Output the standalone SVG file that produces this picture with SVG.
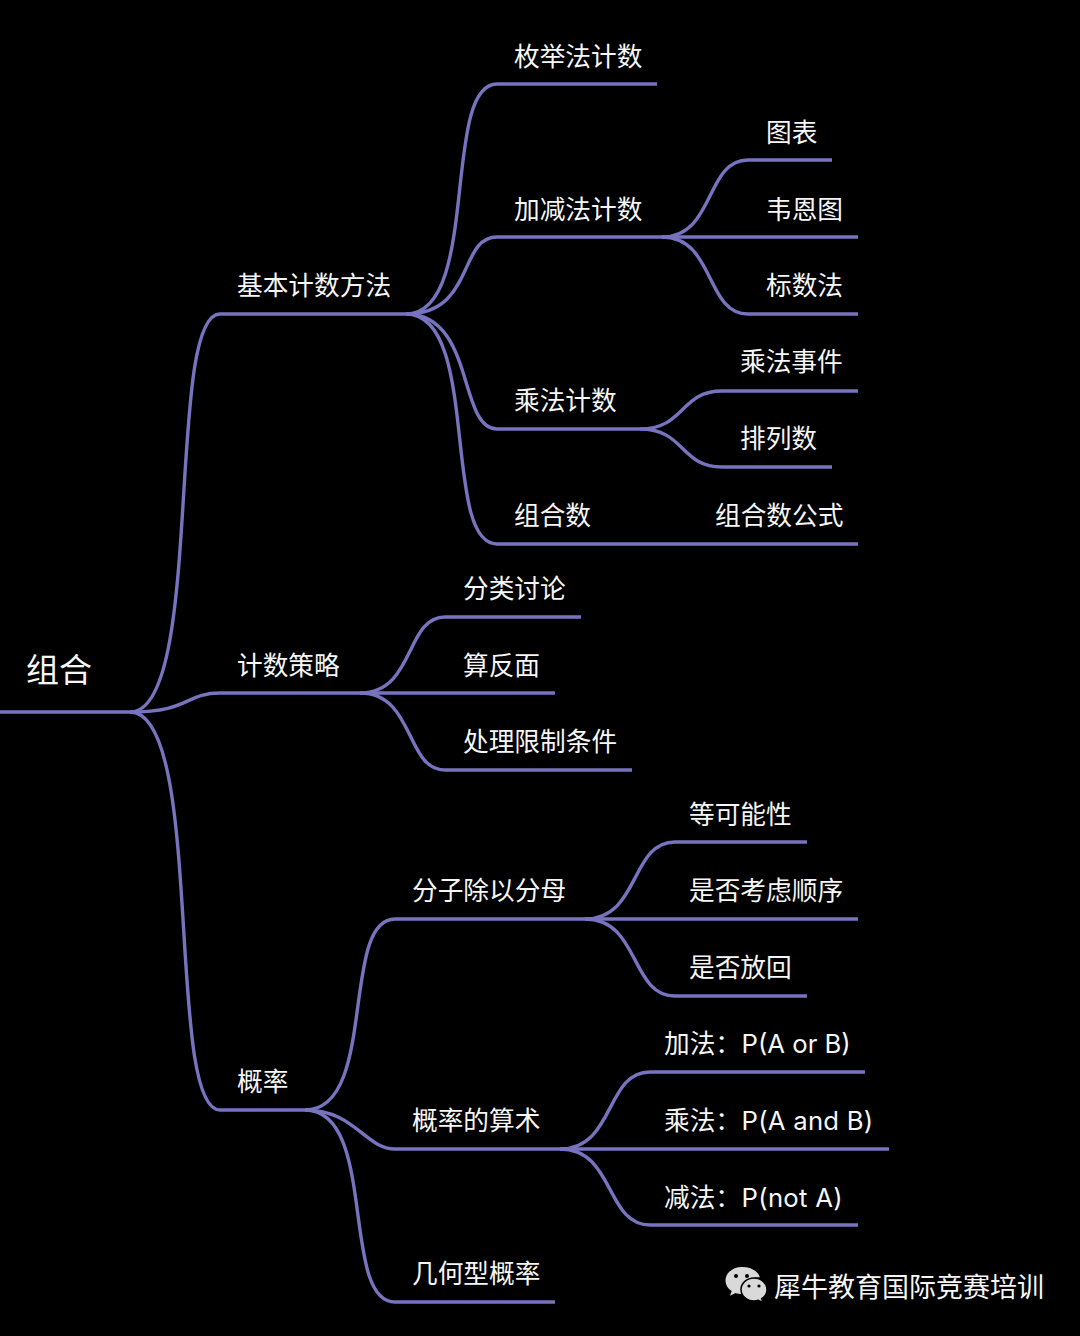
<svg xmlns="http://www.w3.org/2000/svg" width="1080" height="1336" viewBox="0 0 1080 1336">
<style>
.c{fill:none;stroke:#7873bf;stroke-width:3.4;stroke-linecap:butt}
text{fill:#f6f6f6;font-family:"Noto Sans CJK SC","Noto Sans",sans-serif;font-size:25.7px}
.l{font-family:"Inter","Noto Sans CJK SC",sans-serif}
</style>
<rect width="1080" height="1336" fill="#000"/>
<g id="connectors">
<path class="c" d="M0 712H130C205 712 165 314 220 314H406"/>
<path class="c" d="M130 712C190 712 185 693 220 693H360"/>
<path class="c" d="M130 712C205 712 165 1110 220 1110H305"/>
<path class="c" d="M406 314C481 314 441 84 497 84H657"/>
<path class="c" d="M406 314C475 314 458 237 497 237H662"/>
<path class="c" d="M406 314C475 314 458 429 497 429H640"/>
<path class="c" d="M406 314C481 314 441 544 497 544H858"/>
<path class="c" d="M662 237C715 237 705 160 748 160H832"/>
<path class="c" d="M662 237H858"/>
<path class="c" d="M662 237C715 237 705 314 748 314H858"/>
<path class="c" d="M640 429C685 429 680 391 722 391H858"/>
<path class="c" d="M640 429C685 429 680 467 722 467H832"/>
<path class="c" d="M360 693C415 693 405 617 445 617H581"/>
<path class="c" d="M360 693H555"/>
<path class="c" d="M360 693C415 693 405 770 445 770H632"/>
<path class="c" d="M305 1110C378 1110 340 919 395 919H585"/>
<path class="c" d="M305 1110C355 1110 365 1149 395 1149H560"/>
<path class="c" d="M305 1110C378 1110 340 1302 395 1302H555"/>
<path class="c" d="M585 919C640 919 630 842 675 842H807"/>
<path class="c" d="M585 919H858"/>
<path class="c" d="M585 919C640 919 630 996 675 996H807"/>
<path class="c" d="M560 1149C615 1149 605 1072 650 1072H865"/>
<path class="c" d="M560 1149H889"/>
<path class="c" d="M560 1149C615 1149 605 1225 650 1225H858"/>
</g>
<g id="n-root"><text x="26" y="682" style="font-size:33px">组合</text></g>
<g id="n-basic"><text x="237" y="295">基本计数方法</text></g>
<g id="n-enum"><text x="514" y="66">枚举法计数</text></g>
<g id="n-add"><text x="514" y="219">加减法计数</text></g>
<g id="n-chart"><text x="766" y="142">图表</text></g>
<g id="n-venn"><text x="766" y="219">韦恩图</text></g>
<g id="n-mark"><text x="766" y="295">标数法</text></g>
<g id="n-mult"><text x="514" y="410">乘法计数</text></g>
<g id="n-multev"><text x="740" y="371">乘法事件</text></g>
<g id="n-perm"><text x="740" y="448">排列数</text></g>
<g id="n-comb"><text x="514" y="525">组合数</text></g>
<g id="n-combf"><text x="715" y="525">组合数公式</text></g>
<g id="n-strategy"><text x="237" y="675">计数策略</text></g>
<g id="n-case"><text x="463" y="598">分类讨论</text></g>
<g id="n-compl"><text x="463" y="675">算反面</text></g>
<g id="n-limit"><text x="463" y="751">处理限制条件</text></g>
<g id="n-prob"><text x="237" y="1091">概率</text></g>
<g id="n-frac"><text x="412" y="900">分子除以分母</text></g>
<g id="n-equal"><text x="689" y="824">等可能性</text></g>
<g id="n-order"><text x="689" y="900">是否考虑顺序</text></g>
<g id="n-replace"><text x="689" y="977">是否放回</text></g>
<g id="n-arith"><text x="412" y="1130">概率的算术</text></g>
<g id="n-or"><text x="664" y="1053">加法：<tspan class="l" x="741.500">P(A or B)</tspan></text></g>
<g id="n-and"><text x="664" y="1130">乘法：<tspan class="l" x="741.500" letter-spacing=".25">P(A and B)</tspan></text></g>
<g id="n-not"><text x="664" y="1207">减法：<tspan class="l" x="741.500" letter-spacing=".3">P(not A)</tspan></text></g>
<g id="n-geo"><text x="412" y="1283">几何型概率</text></g>
<g id="watermark">
<path fill="#d9d9d9" d="M742 1267c-9.200 0-16.500 6-16.500 13.500 0 4.300 2.400 8 6.200 10.500l-1.700 4.800 5.600-2.800c2 .6 4 1 6.400 1 .6 0 1.200 0 1.800-.1-.4-1.200-.6-2.400-.6-3.700 0-7.200 6.600-13 15-13h1.600c-1.600-6-8.600-10.200-17.800-10.200z"/>
<path fill="#d9d9d9" stroke="#000" stroke-width="1.500" d="M767 1289.500c0-6.300-5.900-11.500-13-11.500s-13 5.200-13 11.500 5.900 11.500 13 11.500c1.500 0 3-.2 4.300-.7l4.500 2.400-1.200-4c3.300-2.100 5.400-5.200 5.400-8.700z"/>
<circle cx="736" cy="1276" r="2" fill="#000"/><circle cx="747" cy="1276" r="2" fill="#000"/>
<circle cx="749" cy="1286" r="1.600" fill="#000"/><circle cx="759" cy="1286" r="1.600" fill="#000"/>
<text x="774" y="1297" style="font-size:27px">犀牛教育国际竞赛培训</text>
</g>
</svg>
